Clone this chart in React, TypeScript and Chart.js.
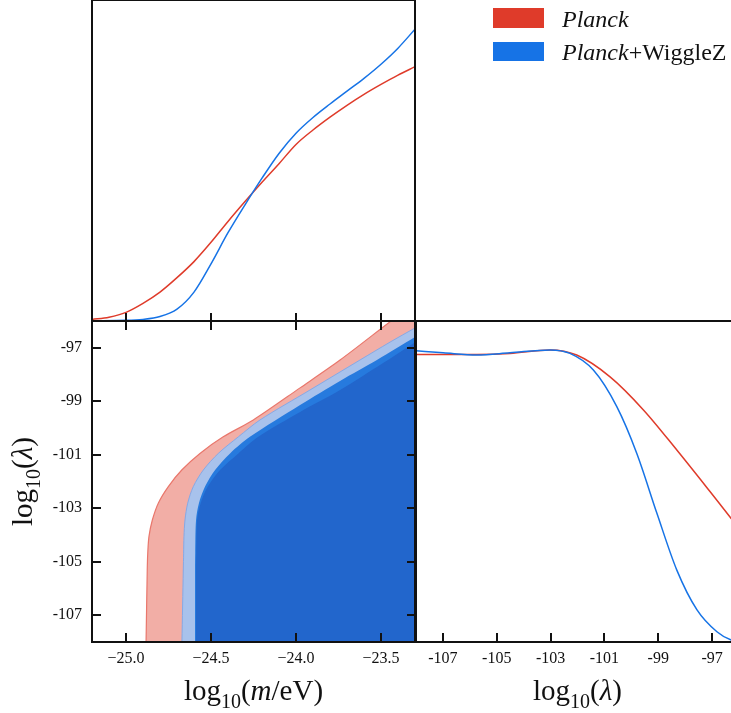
import React, { useEffect, useRef } from "react";
import { Chart, registerables } from "chart.js";

Chart.register(...registerables);

// ---------------- data ----------------
const M_MIN = -25.2;
const M_MAX = -23.3;
const L_MIN = -108;
const L_MAX = -96;

const M_TICKS = [-25.0, -24.5, -24.0, -23.5];
const M_TICK_LABELS = ["\u221225.0", "\u221224.5", "\u221224.0", "\u221223.5"];
const L_TICKS = [-107, -105, -103, -101, -99, -97];
const L_TICK_LABELS = ["-107", "-105", "-103", "-101", "-99", "-97"];

// 1D marginal, log10(m/eV)
const M_X_PLANCK = [-25.2, -25.1, -25.0, -24.9, -24.8, -24.7, -24.6, -24.5, -24.4, -24.3, -24.2, -24.1, -24.0, -23.9, -23.8, -23.7, -23.6, -23.5, -23.4, -23.3];
const M_P_PLANCK = [0.005, 0.012, 0.027, 0.055, 0.09, 0.135, 0.185, 0.245, 0.31, 0.372, 0.432, 0.49, 0.55, 0.595, 0.635, 0.672, 0.706, 0.737, 0.766, 0.792];
const M_X_WIGGLEZ = [-25.2, -25.0, -24.9, -24.8, -24.7, -24.6, -24.5, -24.4, -24.3, -24.2, -24.1, -24.0, -23.9, -23.8, -23.7, -23.6, -23.5, -23.4, -23.3];
const M_P_WIGGLEZ = [0.001, 0.002, 0.005, 0.014, 0.037, 0.09, 0.178, 0.275, 0.362, 0.445, 0.522, 0.585, 0.634, 0.676, 0.716, 0.756, 0.8, 0.85, 0.909];

// 1D marginal, log10(lambda)
const L_X_PLANCK = [-108, -107, -105.74, -104.51, -103.02, -102.03, -100.79, -99.55, -98.31, -97.07, -96.29, -96];
const L_P_PLANCK = [0.896, 0.896, 0.896, 0.899, 0.91, 0.894, 0.826, 0.723, 0.598, 0.468, 0.385, 0.355];
const L_X_WIGGLEZ = [-108, -106.99, -105.74, -104.51, -103.02, -102.28, -101.41, -100.54, -99.8, -99.05, -98.31, -97.56, -96.82, -96.29, -96];
const L_P_WIGGLEZ = [0.907, 0.901, 0.894, 0.901, 0.91, 0.899, 0.847, 0.733, 0.588, 0.401, 0.224, 0.1, 0.032, 0.006, 0.003];

// 2D contour edges (m, lambda)
const PLANCK95_M = [-24.882, -24.875, -24.872, -24.865, -24.845, -24.81, -24.751, -24.672, -24.565, -24.428, -24.251, -23.976, -23.741, -23.441, -23.3];
const PLANCK95_L = [-108, -105.31, -104.68, -104.06, -103.44, -102.81, -102.19, -101.57, -100.95, -100.33, -99.7, -98.5, -97.46, -96.0, -95.33];
const WZ95_M = [-24.671, -24.663, -24.661, -24.659, -24.653, -24.637, -24.604, -24.545, -24.457, -24.339, -24.212, -23.918, -23.624, -23.447, -23.3];
const WZ95_L = [-108, -105.31, -104.68, -104.06, -103.44, -102.81, -102.19, -101.57, -100.95, -100.33, -99.7, -98.58, -97.46, -96.79, -96.26];
const WZ68_M = [-24.594, -24.594, -24.593, -24.588, -24.571, -24.535, -24.476, -24.388, -24.271, -23.976, -23.741, -23.524, -23.3];
const WZ68_L = [-108, -105.31, -104.68, -103.44, -102.81, -102.19, -101.57, -100.95, -100.33, -99.14, -98.24, -97.46, -96.6];
const CORE_M = [-24.588, -24.588, -24.587, -24.582, -24.561, -24.519, -24.447, -24.339, -24.222, -23.976, -23.741, -23.488, -23.3];
const CORE_L = [-108, -105.31, -104.68, -103.44, -102.81, -102.19, -101.57, -100.95, -100.33, -99.4, -98.58, -97.57, -96.79];

// ---------------- layout & style ----------------
const W = 731;
const H = 713;
const WIDE = 760;
const COL_L = 92;
const COL_M = 415;
const COL_R = 739;
const ROW_T = 0;
const ROW_M = 321;
const ROW_B = 642;
const XAXIS_H = 40;
const YAXIS_W = 70;

const SERIF = "'Liberation Serif', 'DejaVu Serif', serif";
const RED = "#df3b2a";
const BLUE = "#1673e6";
const INK = "#111111";

const pts = (xs: number[], ys: number[]) => xs.map((x, i) => ({ x, y: ys[i] }));

type Seg = { text: string; font: string; dy?: number };

function drawRich(ctx: CanvasRenderingContext2D, segs: Seg[], x: number, y: number, angle: number, align: "center" | "left") {
  ctx.save();
  ctx.translate(x, y);
  ctx.rotate(angle);
  ctx.fillStyle = INK;
  ctx.textBaseline = "alphabetic";
  ctx.textAlign = "left";
  let total = 0;
  for (const s of segs) {
    ctx.font = s.font;
    total += ctx.measureText(s.text).width;
  }
  let cx = align === "center" ? -total / 2 : 0;
  for (const s of segs) {
    ctx.font = s.font;
    ctx.fillText(s.text, cx, s.dy || 0);
    cx += ctx.measureText(s.text).width;
  }
  ctx.restore();
}

const F_MAIN = `29px ${SERIF}`;
const F_MAIN_IT = `italic 29px ${SERIF}`;
const F_SUB = `20px ${SERIF}`;

const TITLE_M: Seg[] = [
  { text: "log", font: F_MAIN },
  { text: "10", font: F_SUB, dy: 7.5 },
  { text: "(", font: F_MAIN },
  { text: "m", font: F_MAIN_IT },
  { text: "/eV)", font: F_MAIN },
];
const TITLE_L: Seg[] = [
  { text: "log", font: F_MAIN },
  { text: "10", font: F_SUB, dy: 7.5 },
  { text: "(", font: F_MAIN },
  { text: "\u03bb", font: F_MAIN_IT },
  { text: ")", font: F_MAIN },
];

type TickSpec = { edge: "top" | "bottom" | "left" | "right"; values: number[]; len: number };

function framePlugin(sides: string[], ticks: TickSpec[], extra?: (chart: any) => void) {
  return {
    id: "frameTicks",
    afterDraw(chart: any) {
      const { ctx, chartArea: a, scales } = chart;
      ctx.save();
      ctx.strokeStyle = INK;
      ctx.lineWidth = 2;
      ctx.beginPath();
      if (sides.includes("top")) { ctx.moveTo(a.left - 1, a.top); ctx.lineTo(a.right + 1, a.top); }
      if (sides.includes("bottom")) { ctx.moveTo(a.left - 1, a.bottom); ctx.lineTo(a.right + 1, a.bottom); }
      if (sides.includes("left")) { ctx.moveTo(a.left, a.top); ctx.lineTo(a.left, a.bottom); }
      if (sides.includes("right")) { ctx.moveTo(a.right, a.top); ctx.lineTo(a.right, a.bottom); }
      ctx.stroke();
      ctx.beginPath();
      for (const t of ticks) {
        for (const v of t.values) {
          if (t.edge === "top" || t.edge === "bottom") {
            const px = Math.round(scales.x.getPixelForValue(v));
            if (t.edge === "top") { ctx.moveTo(px, a.top); ctx.lineTo(px, a.top + t.len); }
            else { ctx.moveTo(px, a.bottom); ctx.lineTo(px, a.bottom - t.len); }
          } else {
            const py = Math.round(scales.y.getPixelForValue(v));
            if (t.edge === "left") { ctx.moveTo(a.left, py); ctx.lineTo(a.left + t.len, py); }
            else { ctx.moveTo(a.right, py); ctx.lineTo(a.right - t.len, py); }
          }
        }
      }
      ctx.stroke();
      ctx.restore();
      if (extra) extra(chart);
    },
  };
}

const basePlugins = { legend: { display: false }, tooltip: { enabled: false }, title: { display: false } };
const TICK_FONT = { family: SERIF, size: 16 };

function configTop(): any {
  return {
    type: "line",
    data: {
      datasets: [
        { data: pts(M_X_WIGGLEZ, M_P_WIGGLEZ), borderColor: BLUE, borderWidth: 1.5, pointRadius: 0, fill: false, cubicInterpolationMode: "monotone", order: 0 },
        { data: pts(M_X_PLANCK, M_P_PLANCK), borderColor: RED, borderWidth: 1.5, pointRadius: 0, fill: false, cubicInterpolationMode: "monotone", order: 1 },
      ],
    },
    options: {
      responsive: false,
      animation: false,
      events: [],
      layout: { padding: { left: COL_L, top: ROW_T, right: W - COL_M, bottom: H - ROW_M } },
      scales: {
        x: { type: "linear", min: M_MIN, max: M_MAX, display: false },
        y: { type: "linear", min: 0, max: 1, display: false },
      },
      plugins: basePlugins,
    },
    plugins: [
      framePlugin(["top", "bottom", "left", "right"], [{ edge: "bottom", values: M_TICKS, len: 8 }], (chart: any) => {
        const ctx = chart.ctx as CanvasRenderingContext2D;
        ctx.save();
        ctx.fillStyle = RED;
        ctx.fillRect(493, 8, 51, 20);
        ctx.fillStyle = BLUE;
        ctx.fillRect(493, 42, 51, 19);
        ctx.restore();
        drawRich(ctx, [{ text: "Planck", font: `italic 24px ${SERIF}` }], 562, 27, 0, "left");
        drawRich(ctx, [
          { text: "Planck", font: `italic 24px ${SERIF}` },
          { text: "+WiggleZ", font: `24px ${SERIF}` },
        ], 562, 60, 0, "left");
      }),
    ],
  };
}

function region(xs: number[], ys: number[], fillColor: string, edge: string, bw: number, order: number) {
  return {
    data: pts(xs, ys),
    borderColor: edge,
    borderWidth: bw,
    backgroundColor: fillColor,
    pointRadius: 0,
    fill: "start",
    tension: 0.3,
    capBezierPoints: false,
    order,
  };
}

function configContour(): any {
  return {
    type: "line",
    data: {
      datasets: [
        region(PLANCK95_M, PLANCK95_L, "#f2aea6", "#e9776c", 1.2, 4),
        region(WZ95_M, WZ95_L, "#a8c2ec", "#86a9e6", 1, 3),
        region(WZ68_M, WZ68_L, "#267ade", "#267ade", 0, 2),
        region(CORE_M, CORE_L, "#2266cc", "#2266cc", 0, 1),
      ],
    },
    options: {
      responsive: false,
      animation: false,
      events: [],
      layout: { padding: { left: COL_L - YAXIS_W, top: ROW_M, right: W - COL_M, bottom: H - ROW_B - XAXIS_H } },
      scales: {
        x: {
          type: "linear", min: M_MIN, max: M_MAX, bounds: "data",
          afterFit: (s: any) => { s.height = XAXIS_H; },
          afterBuildTicks: (s: any) => { s.ticks = M_TICKS.map((v) => ({ value: v })); },
          ticks: { callback: (_v: any, i: number) => M_TICK_LABELS[i], font: TICK_FONT, color: INK, padding: 7, maxRotation: 0, autoSkip: false },
          grid: { display: false, drawTicks: false },
          border: { display: false },
        },
        y: {
          type: "linear", min: L_MIN, max: L_MAX, bounds: "data",
          afterFit: (s: any) => { s.width = YAXIS_W; },
          afterBuildTicks: (s: any) => { s.ticks = L_TICKS.map((v) => ({ value: v })); },
          ticks: { callback: (_v: any, i: number) => L_TICK_LABELS[i], font: TICK_FONT, color: INK, padding: 10, autoSkip: false },
          grid: { display: false, drawTicks: false },
          border: { display: false },
        },
      },
      plugins: basePlugins,
    },
    plugins: [
      framePlugin(["top", "bottom", "left", "right"], [
        { edge: "top", values: M_TICKS, len: 9 },
        { edge: "bottom", values: M_TICKS, len: 9 },
        { edge: "left", values: L_TICKS, len: 9 },
        { edge: "right", values: L_TICKS, len: 8 },
      ], (chart: any) => {
        const a = chart.chartArea;
        drawRich(chart.ctx, TITLE_M, (a.left + a.right) / 2, 700, 0, "center");
        drawRich(chart.ctx, TITLE_L, 32, (a.top + a.bottom) / 2, -Math.PI / 2, "center");
      }),
    ],
  };
}

function configLambda(): any {
  return {
    type: "line",
    data: {
      datasets: [
        { data: pts(L_X_WIGGLEZ, L_P_WIGGLEZ), borderColor: BLUE, borderWidth: 1.5, pointRadius: 0, fill: false, cubicInterpolationMode: "monotone", order: 0 },
        { data: pts(L_X_PLANCK, L_P_PLANCK), borderColor: RED, borderWidth: 1.5, pointRadius: 0, fill: false, cubicInterpolationMode: "monotone", order: 1 },
      ],
    },
    options: {
      responsive: false,
      animation: false,
      events: [],
      layout: { padding: { left: COL_M + 1, top: ROW_M, right: WIDE - COL_R, bottom: H - ROW_B - XAXIS_H } },
      scales: {
        x: {
          type: "linear", min: L_MIN, max: L_MAX, bounds: "data",
          afterFit: (s: any) => { s.height = XAXIS_H; },
          afterBuildTicks: (s: any) => { s.ticks = L_TICKS.map((v) => ({ value: v })); },
          ticks: { callback: (_v: any, i: number) => L_TICK_LABELS[i], font: TICK_FONT, color: INK, padding: 7, maxRotation: 0, autoSkip: false },
          grid: { display: false, drawTicks: false },
          border: { display: false },
        },
        y: { type: "linear", min: 0, max: 1, display: false },
      },
      plugins: basePlugins,
    },
    plugins: [
      framePlugin(["top", "bottom", "left"], [{ edge: "bottom", values: L_TICKS, len: 9 }], (chart: any) => {
        const a = chart.chartArea;
        drawRich(chart.ctx, TITLE_L, (a.left + a.right) / 2, 700, 0, "center");
      }),
    ],
  };
}

export default function App() {
  const refA = useRef<HTMLCanvasElement>(null);
  const refB = useRef<HTMLCanvasElement>(null);
  const refC = useRef<HTMLCanvasElement>(null);

  useEffect(() => {
    const charts = [
      new Chart(refB.current as HTMLCanvasElement, configContour()),
      new Chart(refC.current as HTMLCanvasElement, configLambda()),
      new Chart(refA.current as HTMLCanvasElement, configTop()),
    ];
    return () => charts.forEach((c) => c.destroy());
  }, []);

  const cs: React.CSSProperties = { position: "absolute", left: 0, top: 0 };
  return (
    <div style={{ position: "absolute", left: 0, top: 0, width: W, height: H, overflow: "hidden", background: "#ffffff" }}>
      <canvas ref={refB} width={W} height={H} style={{ ...cs, width: W, height: H }} />
      <canvas ref={refC} width={WIDE} height={H} style={{ ...cs, width: WIDE, height: H }} />
      <canvas ref={refA} width={W} height={H} style={{ ...cs, width: W, height: H }} />
    </div>
  );
}
